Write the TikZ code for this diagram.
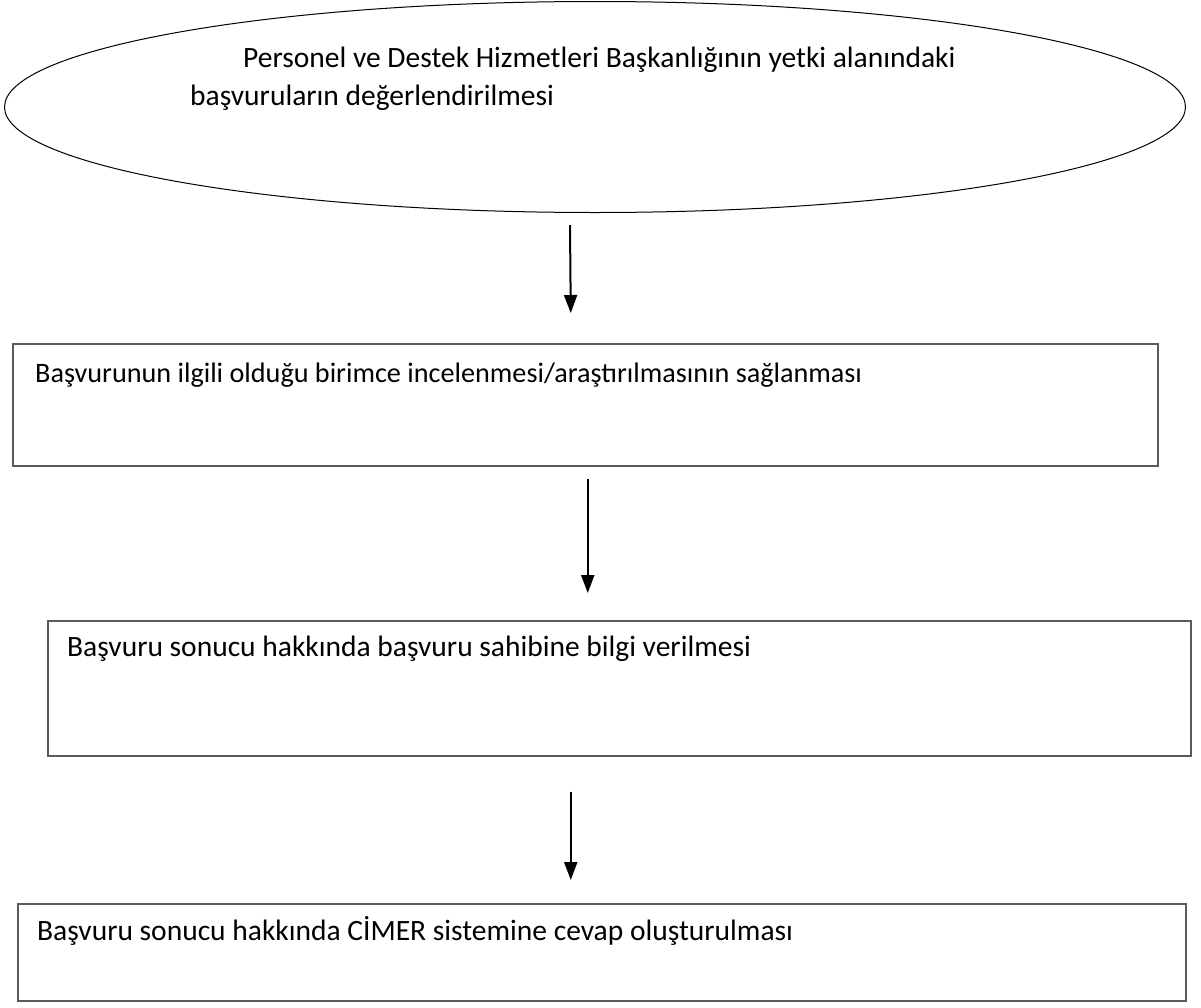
\documentclass[tikz,border=0pt]{standalone}
\usepackage{fontspec}
\setmainfont{Carlito}
\usetikzlibrary{arrows.meta,shapes.geometric}
\definecolor{boxgray}{RGB}{90,90,90}
\begin{document}
\begin{tikzpicture}[x=1pt,y=-1pt,
  boxstyle/.style={draw=boxgray,line width=1.5pt,inner sep=0pt,anchor=north west},
  txt/.style={anchor=base west,inner sep=0pt,font=\fontsize{29.5}{38}\selectfont},
  flow/.style={line width=2pt,-{Triangle[width=13pt,length=18pt]}}]
\useasboundingbox (0,0) rectangle (1201,1007);
\node[ellipse,draw,line width=1pt,minimum width=1181pt,minimum height=211pt,inner sep=0pt] (ell) at (595,107) {};
\node[txt,align=left] (et) at (190,105) {\hspace*{53pt}Personel ve Destek Hizmetleri Başkanlığının yetki alanındaki\\başvuruların değerlendirilmesi};

\node[boxstyle,minimum width=1145pt,minimum height=122pt] (b1) at (12,343) {};
\node[txt,font=\fontsize{28.2}{36}\selectfont] (t1) at (35,382) {Başvurunun ilgili olduğu birimce incelenmesi/araştırılmasının sağlanması};

\node[boxstyle,minimum width=1143pt,minimum height=135pt] (b2) at (47,620) {};
\node[txt] (t2) at (67,656) {Başvuru sonucu hakkında başvuru sahibine bilgi verilmesi};

\node[boxstyle,minimum width=1168pt,minimum height=97pt] (b3) at (17,903) {};
\node[txt] (t3) at (37,940) {Başvuru sonucu hakkında CİMER sistemine cevap oluşturulması};

\draw[flow] ([xshift=-25pt,yshift=-12pt]ell.south) -- ([xshift=-14.5pt,yshift=30pt]b1.north);
\draw[flow] ([xshift=2.5pt,yshift=-12pt]b1.south) -- ([xshift=-31.5pt,yshift=27pt]b2.north);
\draw[flow] ([xshift=-48.5pt,yshift=-35pt]b2.south) -- ([xshift=-31pt,yshift=23pt]b3.north);
\end{tikzpicture}
\end{document}
